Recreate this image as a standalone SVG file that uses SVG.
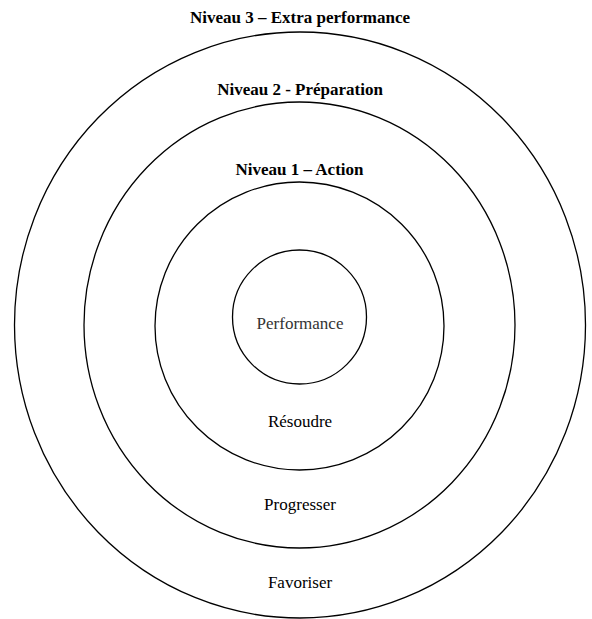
<svg xmlns="http://www.w3.org/2000/svg" width="592" height="619" viewBox="0 0 592 619">
<style>
.ring{fill:none;stroke:#000;stroke-width:1.3}
.t{font-family:"Liberation Serif","Times New Roman",serif;font-size:17px;text-anchor:middle;fill:#000}
.b{font-weight:bold}
</style>
<rect width="592" height="619" fill="#fff"/>
<g id="level3">
<ellipse class="ring" cx="300" cy="325" rx="285.5" ry="293"/>
<text class="t b" x="300" y="22.5">Niveau 3 – Extra performance</text>
<text class="t" x="300" y="587.5">Favoriser</text>
</g>
<g id="level2">
<ellipse class="ring" cx="299.5" cy="325" rx="215.5" ry="223"/>
<text class="t b" x="300" y="95">Niveau 2 - Préparation</text>
<text class="t" x="300" y="510">Progresser</text>
</g>
<g id="level1">
<ellipse class="ring" cx="299.5" cy="326" rx="144.5" ry="144"/>
<text class="t b" x="299.5" y="175">Niveau 1 – Action</text>
<text class="t" x="300" y="426.5">Résoudre</text>
</g>
<g id="performance">
<ellipse class="ring" cx="299.5" cy="317" rx="67" ry="67"/>
<text class="t" x="300" y="328.5" fill="#333" style="fill:#333">Performance</text>
</g>
<g id="connectors"/>
</svg>
